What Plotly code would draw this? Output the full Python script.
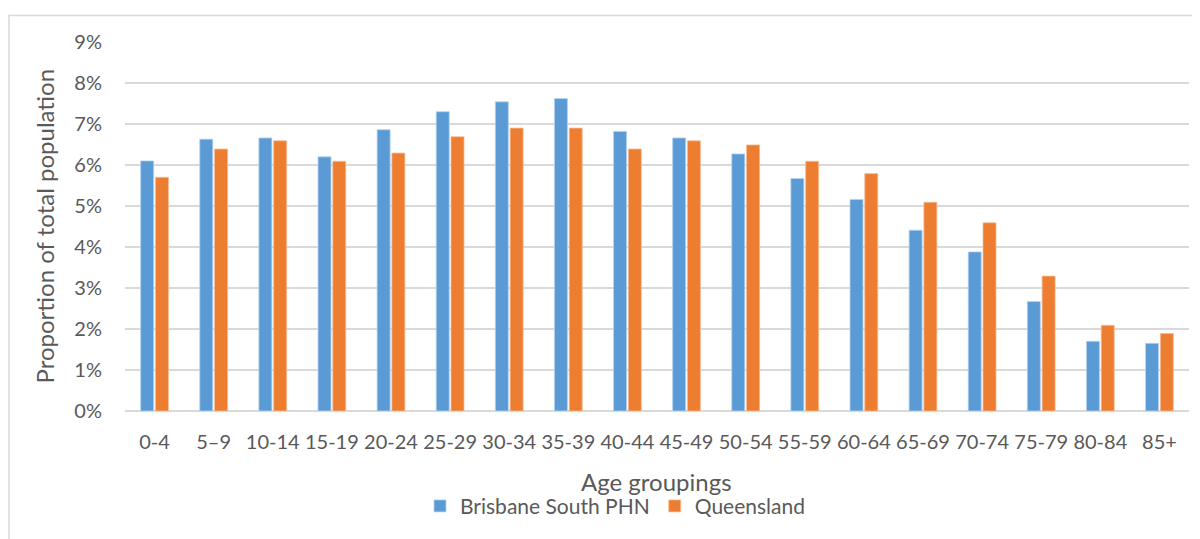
import plotly.graph_objects as go

age_groups = ["0-4", "5–9", "10-14", "15-19", "20-24", "25-29", "30-34", "35-39", "40-44",
              "45-49", "50-54", "55-59", "60-64", "65-69", "70-74", "75-79", "80-84", "85+"]
brisbane_south = [6.1, 6.63, 6.66, 6.2, 6.86, 7.3, 7.54, 7.62, 6.82,
                  6.66, 6.27, 5.67, 5.16, 4.41, 3.88, 2.67, 1.70, 1.65]
queensland = [5.7, 6.39, 6.59, 6.09, 6.29, 6.69, 6.9, 6.9, 6.39,
              6.59, 6.49, 6.09, 5.79, 5.09, 4.59, 3.29, 2.09, 1.89]
y_ticks = [0, 1, 2, 3, 4, 5, 6, 7, 8, 9]
y_tick_labels = ["0%", "1%", "2%", "3%", "4%", "5%", "6%", "7%", "8%", "9%"]

FONT = "Lato"
TXT = "#595959"
GRID = "#D9D9D9"

OFF = 8  # page body margin
W, H = 1200 - OFF, 539 - OFF
# plot area in page pixels
PL, PR, PT, PB = 125, 1189, 41.5, 411.5
L, R, T, B = PL - OFF, PR - OFF, PT - OFF, PB - OFF


def px(x):
    return (x - PL) / (PR - PL)


def py(y):
    return (PB - y) / (PB - PT)


fig = go.Figure()
fig.add_trace(go.Bar(x=age_groups, y=brisbane_south, name="Brisbane South PHN",
                     marker=dict(color="#5B9BD5", line=dict(color="#B4D3EF", width=0.8))))
fig.add_trace(go.Bar(x=age_groups, y=queensland, name="Queensland",
                     marker=dict(color="#ED7D31", line=dict(color="#F6BD96", width=0.8))))

fig.update_layout(
    width=W, height=H,
    margin=dict(l=L, r=W - R, t=T, b=H - B, pad=0),
    paper_bgcolor="white", plot_bgcolor="white",
    barmode="group", bargap=0.5, bargroupgap=0.12,
    font=dict(family=FONT, color=TXT, size=20),
    showlegend=True,
    legend=dict(orientation="h", x=px(615), xanchor="center", y=py(507), yanchor="middle",
                font=dict(size=21, color=TXT, family=FONT), itemwidth=30, traceorder="normal",
                bgcolor="rgba(0,0,0,0)"),
    xaxis=dict(showgrid=False, showline=False, ticks="", tickfont=dict(size=20, color=TXT),
               ticklabelstandoff=17),
    yaxis=dict(range=[0, 9], tickvals=y_ticks, ticktext=y_tick_labels, showgrid=True,
               gridcolor=GRID, gridwidth=1.5, zeroline=True, zerolinecolor=GRID, zerolinewidth=1.5,
               showline=False, ticks="", tickfont=dict(size=20, color=TXT), ticklabelstandoff=22),
)

fig.add_annotation(text="Age groupings", xref="paper", yref="paper", x=px(656),
                   y=py(482), xanchor="center", yanchor="middle", showarrow=False,
                   font=dict(size=24, color=TXT, family=FONT))
fig.add_annotation(text="Proportion of total population", xref="paper", yref="paper",
                   x=px(44), y=py(226.5), xanchor="center", yanchor="middle", textangle=-90,
                   showarrow=False, font=dict(size=24, color=TXT, family=FONT))

fig.add_shape(type="rect", xref="paper", yref="paper",
              x0=px(9), x1=px(1215), y0=py(560), y1=py(15),
              line=dict(color=GRID, width=1.5), fillcolor="rgba(0,0,0,0)", layer="below")

fig.write_html("out.html")
